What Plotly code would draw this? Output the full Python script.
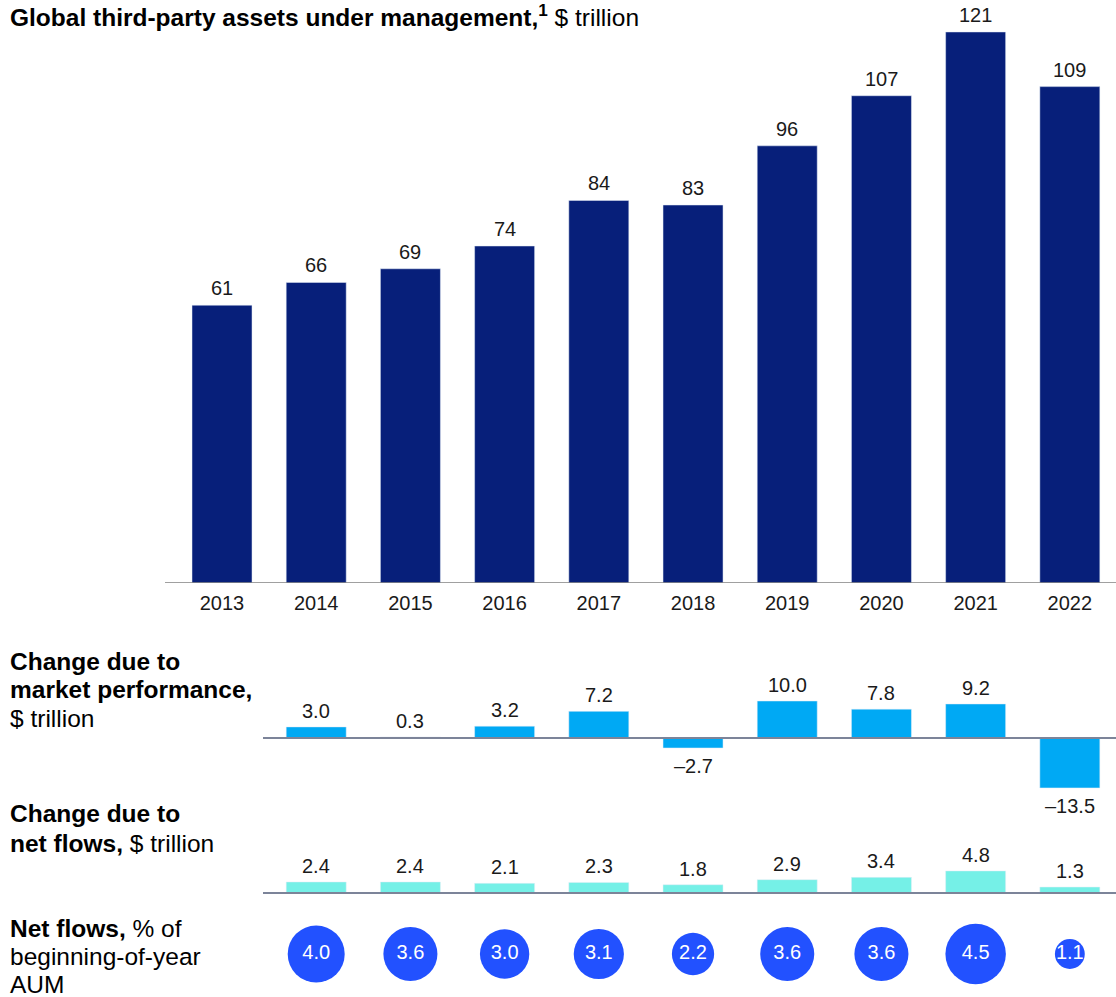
import plotly.graph_objects as go

# ---- data ----
years = ["2013", "2014", "2015", "2016", "2017", "2018", "2019", "2020", "2021", "2022"]
aum = [61, 66, 69, 74, 84, 83, 96, 107, 121, 109]

change_years = years[1:]
market_change = [3.0, 0.3, 3.2, 7.2, -2.7, 10.0, 7.8, 9.2, -13.5]
flow_change = [2.4, 2.4, 2.1, 2.3, 1.8, 2.9, 3.4, 4.8, 1.3]
flow_pct = [4.0, 3.6, 3.0, 3.1, 2.2, 3.6, 3.6, 4.5, 1.1]

# ---- styling ----
W, H = 1116, 997
FONT = "Liberation Sans, Arial, sans-serif"
NAVY = "#071F7A"
CYAN = "#00A9F4"
TEAL = "#75F0E7"
BLUE = "#2251FF"
TEXT = "#1a1a1a"
NUM_SIZE = 20
LABEL_SIZE = 24.5


def fy(px):
    """Pixel row (from top) to paper fraction."""
    return (H - px) / H


def fmt(v):
    s = f"{abs(v):.1f}"
    return ("–" + s) if v < 0 else s


def cat_index(label):
    return years.index(label)


fig = go.Figure()

fig.add_trace(go.Bar(x=years, y=aum, marker_color=NAVY, yaxis="y",
                     hoverinfo="skip"))
fig.add_trace(go.Bar(x=change_years, y=market_change, marker_color=CYAN,
                     yaxis="y2", hoverinfo="skip"))
fig.add_trace(go.Bar(x=change_years, y=flow_change, marker_color=TEAL,
                     yaxis="y3", hoverinfo="skip"))
fig.add_trace(go.Scatter(
    x=change_years, y=[0] * len(flow_pct), yaxis="y4", mode="markers+text",
    marker=dict(size=flow_pct, sizemode="area", sizeref=1 / 406,
                color=BLUE, opacity=1, line=dict(width=0)),
    text=[f"{v:.1f}" for v in flow_pct], textposition="middle center",
    textfont=dict(family=FONT, size=NUM_SIZE, color="white"),
    hoverinfo="skip", cliponaxis=False))

annotations = []
num_font = dict(family=FONT, size=NUM_SIZE, color=TEXT)
for x, v in zip(years, aum):
    annotations.append(dict(x=cat_index(x), y=v, xref="x", yref="y", text=str(v),
                            yanchor="bottom", yshift=4, showarrow=False,
                            font=num_font))
for x, v in zip(change_years, market_change):
    annotations.append(dict(x=cat_index(x), y=v, xref="x", yref="y2", text=fmt(v),
                            yanchor="bottom" if v >= 0 else "top",
                            yshift=3 if v >= 0 else -5, showarrow=False,
                            font=num_font))
for x, v in zip(change_years, flow_change):
    annotations.append(dict(x=cat_index(x), y=v, xref="x", yref="y3", text=fmt(v),
                            yanchor="bottom", yshift=3, showarrow=False,
                            font=num_font))

# title and row labels, one annotation per line
text_lines = [
    (15, "<b>Global third-party assets under management,<sup>1</sup></b> $ trillion"),
    (661, "<b>Change due to</b>"),
    (689, "<b>market performance,</b>"),
    (718, "$ trillion"),
    (813, "<b>Change due to</b>"),
    (843, "<b>net flows,</b> $ trillion"),
    (928, "<b>Net flows,</b> % of"),
    (956, "beginning-of-year"),
    (984, "AUM"),
]
for mid, txt in text_lines:
    annotations.append(dict(
        x=8 / W, y=fy(mid), xref="paper", yref="paper", xanchor="left",
        yanchor="middle", text=txt, showarrow=False, align="left",
        font=dict(family=FONT, size=LABEL_SIZE, color="black")))

shapes = [
    dict(type="line", xref="paper", yref="y", x0=165 / W, x1=1, y0=0, y1=0,
         line=dict(color="#808080", width=1.5)),
    dict(type="line", xref="paper", yref="y2", x0=263 / W, x1=1, y0=0, y1=0,
         line=dict(color="#7C8499", width=2)),
    dict(type="line", xref="paper", yref="y3", x0=263 / W, x1=1, y0=0, y1=0,
         line=dict(color="#7C8499", width=2)),
]

MAIN_BASE, MAIN_SCALE = 583, 4.554
MKT_BASE, MKT_SCALE = 738, 3.7
FLOW_BASE, FLOW_SCALE = 893, 4.6

fig.update_layout(
    width=W, height=H, margin=dict(l=0, r=0, t=0, b=0),
    paper_bgcolor="white", plot_bgcolor="white", showlegend=False,
    bargap=0.363,
    font=dict(family=FONT, color=TEXT),
    xaxis=dict(type="category", categoryorder="array", categoryarray=years,
               range=[-0.5, 9.49], domain=[174.9 / W, 1], anchor="y",
               showgrid=False, zeroline=False, showline=False,
               ticks="outside", ticklen=2, tickcolor="rgba(0,0,0,0)",
               tickfont=dict(family=FONT, size=NUM_SIZE, color=TEXT),
               fixedrange=True),
    yaxis=dict(domain=[fy(MAIN_BASE), fy(10)],
               range=[0, (MAIN_BASE - 10) / MAIN_SCALE], visible=False,
               fixedrange=True),
    yaxis2=dict(domain=[fy(800), fy(680)], anchor="x",
                range=[-(800 - MKT_BASE) / MKT_SCALE, (MKT_BASE - 680) / MKT_SCALE],
                visible=False, fixedrange=True),
    yaxis3=dict(domain=[fy(900), fy(850)], anchor="x",
                range=[-(900 - FLOW_BASE) / FLOW_SCALE, (FLOW_BASE - 850) / FLOW_SCALE],
                visible=False, fixedrange=True),
    yaxis4=dict(domain=[fy(990), fy(918)], anchor="x", range=[-1, 1],
                visible=False, fixedrange=True),
    annotations=annotations, shapes=shapes,
)

fig.write_html("out.html")
